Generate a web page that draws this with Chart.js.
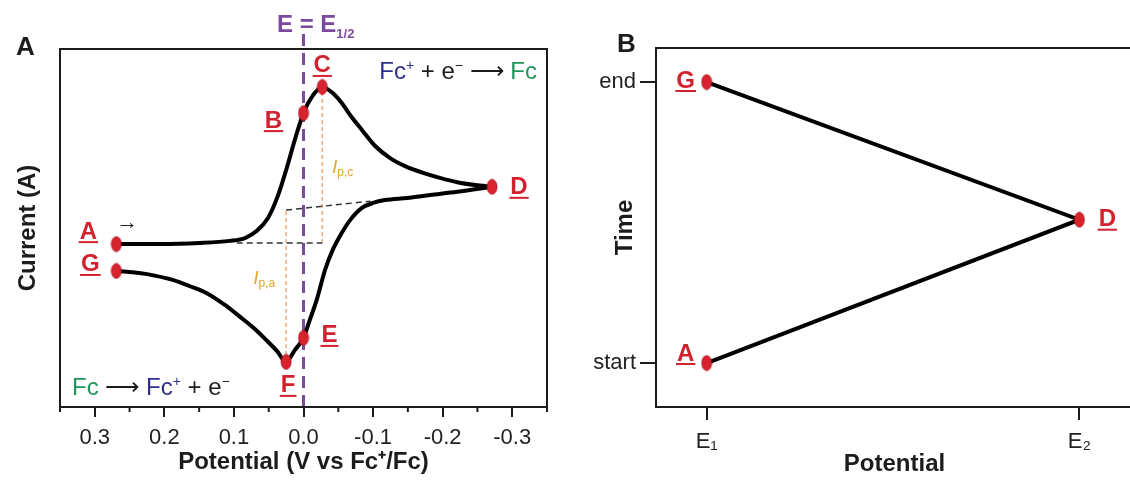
<!DOCTYPE html>
<html>
<head>
<meta charset="utf-8">
<script src="https://cdn.jsdelivr.net/npm/chart.js@4.4.0/dist/chart.umd.min.js"></script>
<style>
  html, body { margin: 0; padding: 0; background: #fff; overflow: hidden; width: 1130px; height: 481px; }
  canvas { position: absolute; top: 0; }
  #cvA { left: 0; width: 560px; height: 481px; }
  #cvB { left: 560px; width: 580px; height: 481px; }
</style>
</head>
<body>
<canvas id="cvA" width="560" height="481"></canvas>
<canvas id="cvB" width="580" height="481"></canvas>
<script>
// ---- panel A: cyclic voltammogram (potential in V vs Fc+/Fc, current in arbitrary units)
const fwdPotential = [0.269, 0.207, 0.149, 0.106, 0.084, 0.067, 0.051, 0.037, 0.024, 0.0125, 0.0, -0.013, -0.027,
  -0.042, -0.055, -0.068, -0.084, -0.103, -0.124, -0.146, -0.172, -0.196, -0.221, -0.247, -0.271];
const fwdCurrent = [45.5, 45.5, 45.8, 46.4, 47.2, 49.2, 52.8, 58.9, 66.8, 74.6, 82.1, 86.9, 89.4,
  87.7, 84.9, 81.3, 77.4, 72.9, 69.6, 67.3, 65.4, 64.0, 62.8, 62.0, 61.5];
const revPotential = [-0.271, -0.221, -0.182, -0.149, -0.117, -0.1, -0.084, -0.067, -0.054, -0.042, -0.031, -0.019,
  -0.009, 0.0, 0.0125, 0.025, 0.038, 0.053, 0.07, 0.092, 0.113, 0.139, 0.164, 0.188, 0.214, 0.236, 0.269];
const revCurrent = [61.5, 60.1, 59.2, 58.4, 57.8, 57.0, 55.6, 52.2, 48.3, 43.9, 38.3, 29.9,
  24.3, 19.3, 15.9, 12.6, 15.6, 18.6, 21.8, 25.3, 28.5, 31.8, 33.8, 35.5, 36.7, 37.4, 38.0];

const markerNames = ['A', 'B', 'C', 'D', 'E', 'F', 'G'];
const markerPotential = [0.269, 0.0, -0.027, -0.271, 0.0, 0.025, 0.269];
const markerCurrent = [45.5, 82.1, 89.4, 61.5, 19.3, 12.6, 38.0];

const cathBasePotential = [0.096, -0.027];
const cathBaseCurrent = [45.8, 45.8];
const anodBasePotential = [0.025, -0.096];
const anodBaseCurrent = [55.0, 57.5];
const ipcPotential = [-0.027, -0.027];
const ipcCurrent = [45.8, 89.4];
const ipaPotential = [0.025, 0.025];
const ipaCurrent = [12.6, 55.0];
const halfWavePotential = [0, 0];
const halfWaveCurrent = [0, 104.7];

const potentialTicks = [0.3, 0.2, 0.1, 0.0, -0.1, -0.2, -0.3];
const potentialTickLabels = ['0.3', '0.2', '0.1', '0.0', '-0.1', '-0.2', '-0.3'];
const potentialMinorTicks = [0.35, 0.25, 0.15, 0.05, -0.05, -0.15, -0.25, -0.35];

// ---- panel B: potential sweep vs time
const sweepNames = ['A', 'D', 'G'];
const sweepPotential = [1, 2, 1];
const sweepTime = [0, 1.02, 2];
const sweepPotentialTicks = [1, 2];
const sweepPotentialLabels = ['E\u2081', 'E\u2082'];
const sweepTimeTicks = [0, 2];
const sweepTimeLabels = ['start', 'end'];

const FONT = '"Liberation Sans", Arial, Helvetica, sans-serif';
const INK = '#1c1c1c';
const RED = '#d3222f';
const PURPLE = '#7a4a9c';
const NAVY = '#2e2f88';
const GREEN = '#22955a';
const GOLD = '#e2a526';
const ORANGE = '#f1ad74';

Chart.defaults.font.family = FONT;
Chart.defaults.color = INK;

const pts = (xs, ys) => xs.map((x, i) => ({ x, y: ys[i] }));

function ellipseDot() {
  const c = document.createElement('canvas');
  c.width = 12; c.height = 17;
  const g = c.getContext('2d');
  g.fillStyle = '#d8222e';
  g.beginPath();
  g.ellipse(6, 8.5, 5, 7.5, 0, 0, Math.PI * 2);
  g.fill();
  g.strokeStyle = '#a8121d';
  g.lineWidth = 0.8;
  g.stroke();
  return c;
}
const dot = ellipseDot();

function drawRuns(ctx, runs, x, base, align) {
  const sized = runs.map(r => { ctx.font = r.f; return { ...r, w: ctx.measureText(r.t).width }; });
  const total = sized.reduce((s, r) => s + r.w, 0);
  let cx = align === 'right' ? x - total : align === 'center' ? x - total / 2 : x;
  ctx.textAlign = 'left';
  ctx.textBaseline = 'alphabetic';
  sized.forEach(r => {
    ctx.font = r.f;
    ctx.fillStyle = r.c;
    ctx.fillText(r.t, cx, base + (r.dy || 0));
    cx += r.w;
  });
}

function markLabel(ctx, t, x, y) {
  ctx.font = `bold 24px ${FONT}`;
  ctx.fillStyle = RED;
  ctx.textAlign = 'center';
  ctx.textBaseline = 'alphabetic';
  ctx.fillText(t, x, y + 8.5);
  const w = ctx.measureText(t).width;
  ctx.fillRect(x - w / 2 - 1, y + 11, w + 2, 2);
}

const framePlugin = {
  id: 'frame',
  afterDatasetsDraw(chart) {
    const { ctx, chartArea: a } = chart;
    ctx.save();
    ctx.strokeStyle = INK;
    ctx.lineWidth = 2;
    ctx.strokeRect(a.left, a.top, a.right - a.left, a.bottom - a.top);
    ctx.restore();
  }
};

// label offsets (px) from each marker
const offsetsA = { A: [-28, -14], B: [-30, 6], C: [0, -23], D: [27, -1], E: [26, -4], F: [2, 22], G: [-26, -8] };
const offsetsB = { A: [-21, -11], D: [28, -2], G: [-21, -3] };

const notesA = {
  id: 'notesA',
  afterDraw(chart) {
    const { ctx, scales: { x, y }, chartArea } = chart;
    ctx.save();
    // minor ticks
    ctx.strokeStyle = INK;
    ctx.lineWidth = 2;
    potentialMinorTicks.forEach(v => {
      const px = x.getPixelForValue(v);
      ctx.beginPath();
      ctx.moveTo(px, chartArea.bottom);
      ctx.lineTo(px, chartArea.bottom + 5);
      ctx.stroke();
    });

    ctx.font = `bold 26px ${FONT}`;
    ctx.fillStyle = INK;
    ctx.textAlign = 'left';
    ctx.fillText('A', 16, 55);

    drawRuns(ctx, [
      { t: 'E = E', f: `bold 24px ${FONT}`, c: PURPLE },
      { t: '1/2', f: `bold 13px ${FONT}`, c: PURPLE, dy: 6 }
    ], 277, 32, 'left');

    const big = `24px ${FONT}`, sup = `14px ${FONT}`;
    drawRuns(ctx, [
      { t: 'Fc', f: big, c: NAVY }, { t: '+', f: sup, c: NAVY, dy: -9 },
      { t: ' + e', f: big, c: INK }, { t: '\u2212', f: sup, c: INK, dy: -9 },
      { t: ' \u27F6 ', f: big, c: INK }, { t: 'Fc', f: big, c: GREEN }
    ], 537, 79, 'right');
    drawRuns(ctx, [
      { t: 'Fc', f: big, c: GREEN }, { t: ' \u27F6 ', f: big, c: INK },
      { t: 'Fc', f: big, c: NAVY }, { t: '+', f: sup, c: NAVY, dy: -9 },
      { t: ' + e', f: big, c: INK }, { t: '\u2212', f: sup, c: INK, dy: -9 }
    ], 72, 395, 'left');

    drawRuns(ctx, [
      { t: 'I', f: `italic 18px ${FONT}`, c: GOLD },
      { t: 'p,c', f: `12px ${FONT}`, c: GOLD, dy: 3 }
    ], x.getPixelForValue(ipcPotential[0]) + 10, 173, 'left');
    drawRuns(ctx, [
      { t: 'I', f: `italic 18px ${FONT}`, c: GOLD },
      { t: 'p,a', f: `12px ${FONT}`, c: GOLD, dy: 3 }
    ], x.getPixelForValue(ipaPotential[0]) - 11, 284, 'right');

    ctx.font = `22px ${FONT}`;
    ctx.fillStyle = INK;
    ctx.textAlign = 'center';
    ctx.textBaseline = 'middle';
    ctx.fillText('\u2192', x.getPixelForValue(markerPotential[0]) + 11, y.getPixelForValue(markerCurrent[0]) - 21);

    markerNames.forEach((n, i) => {
      const o = offsetsA[n];
      markLabel(ctx, n, x.getPixelForValue(markerPotential[i]) + o[0], y.getPixelForValue(markerCurrent[i]) + o[1]);
    });
    ctx.restore();
  }
};

const notesB = {
  id: 'notesB',
  afterDraw(chart) {
    const { ctx, scales: { x, y } } = chart;
    ctx.save();
    ctx.font = `bold 26px ${FONT}`;
    ctx.fillStyle = INK;
    ctx.textAlign = 'left';
    ctx.textBaseline = 'alphabetic';
    ctx.fillText('B', 57, 52);
    sweepNames.forEach((n, i) => {
      const o = offsetsB[n];
      markLabel(ctx, n, x.getPixelForValue(sweepPotential[i]) + o[0], y.getPixelForValue(sweepTime[i]) + o[1]);
    });
    ctx.restore();
  }
};

const lineSet = (label, xs, ys, color, width, dash) => ({
  label, data: pts(xs, ys), showLine: true, borderColor: color, borderWidth: width,
  borderDash: dash || [], pointRadius: 0, tension: 0
});

const fwd = lineSet('forward', fwdPotential, fwdCurrent, '#000', 4);
fwd.cubicInterpolationMode = 'monotone';
const rev = lineSet('reverse', revPotential, revCurrent, '#000', 4);
rev.cubicInterpolationMode = 'monotone';
const half = lineSet('E1/2', halfWavePotential, halfWaveCurrent, PURPLE, 3, [12, 7]);
half.clip = false;

new Chart(document.getElementById('cvA'), {
  type: 'scatter',
  data: {
    datasets: [
      { label: 'markers', data: pts(markerPotential, markerCurrent), pointStyle: dot, pointRadius: 6, showLine: false },
      fwd,
      rev,
      half,
      lineSet('cathodic baseline', cathBasePotential, cathBaseCurrent, '#333', 1.5, [6, 4]),
      lineSet('anodic baseline', anodBasePotential, anodBaseCurrent, '#333', 1.5, [6, 4]),
      lineSet('ip,c', ipcPotential, ipcCurrent, ORANGE, 1.5, [4, 3]),
      lineSet('ip,a', ipaPotential, ipaCurrent, ORANGE, 1.5, [4, 3])
    ]
  },
  options: {
    responsive: false,
    animation: false,
    events: [],
    layout: { padding: { left: 0, top: 49, right: 13, bottom: 0 } },
    plugins: { legend: { display: false }, tooltip: { enabled: false } },
    scales: {
      x: {
        type: 'linear', reverse: true, min: -0.35, max: 0.35,
        afterBuildTicks: s => { s.ticks = potentialTicks.map(v => ({ value: v })); },
        afterFit: s => { s.height = 74; },
        ticks: { callback: (v, i) => potentialTickLabels[i], font: { size: 22 }, color: '#222', padding: 8, maxRotation: 0, autoSkip: false },
        grid: { display: true, drawOnChartArea: false, drawTicks: true, tickLength: 10, color: INK, lineWidth: 2 },
        border: { color: INK, width: 2 },
        title: { display: true, text: 'Potential (V vs Fc\u207A/Fc)', font: { size: 24, weight: 'bold' }, color: INK, padding: { top: 0, bottom: 4 } }
      },
      y: {
        type: 'linear', min: 0, max: 100,
        afterFit: s => { s.width = 60; },
        ticks: { display: false },
        grid: { display: false },
        border: { color: INK, width: 2 },
        title: { display: true, text: 'Current (A)', font: { size: 24, weight: 'bold' }, color: INK, padding: { top: 14, bottom: 0 } }
      }
    }
  },
  plugins: [framePlugin, notesA]
});

new Chart(document.getElementById('cvB'), {
  type: 'scatter',
  data: {
    datasets: [
      { label: 'markers', data: pts(sweepPotential, sweepTime), pointStyle: dot, pointRadius: 6, showLine: false },
      lineSet('sweep', sweepPotential, sweepTime, '#000', 4)
    ]
  },
  options: {
    responsive: false,
    animation: false,
    events: [],
    layout: { padding: { left: 0, top: 48, right: 4, bottom: 0 } },
    plugins: { legend: { display: false }, tooltip: { enabled: false } },
    scales: {
      x: {
        type: 'linear', min: 0.864, max: 2.144,
        afterBuildTicks: s => { s.ticks = sweepPotentialTicks.map(v => ({ value: v })); },
        afterFit: s => { s.height = 74; },
        ticks: { callback: (v, i) => sweepPotentialLabels[i], font: { size: 22 }, color: '#222', padding: 9, maxRotation: 0, autoSkip: false },
        grid: { display: true, drawOnChartArea: false, drawTicks: true, tickLength: 13, color: INK, lineWidth: 2 },
        border: { color: INK, width: 2 },
        title: { display: true, text: 'Potential', font: { size: 24, weight: 'bold' }, color: INK, padding: { top: 0, bottom: 2 } }
      },
      y: {
        type: 'linear', min: -0.313, max: 2.242,
        afterBuildTicks: s => { s.ticks = sweepTimeTicks.map(v => ({ value: v })); },
        afterFit: s => { s.width = 96; },
        ticks: { callback: (v, i) => sweepTimeLabels[i], font: { size: 22 }, color: '#222', padding: 4, autoSkip: false },
        grid: { display: true, drawOnChartArea: false, drawTicks: true, tickLength: 16, color: INK, lineWidth: 2 },
        border: { color: INK, width: 2 },
        title: { display: true, text: 'Time', font: { size: 24, weight: 'bold' }, color: INK, padding: { top: 51, bottom: 0 } }
      }
    }
  },
  plugins: [framePlugin, notesB]
});
</script>
</body>
</html>
